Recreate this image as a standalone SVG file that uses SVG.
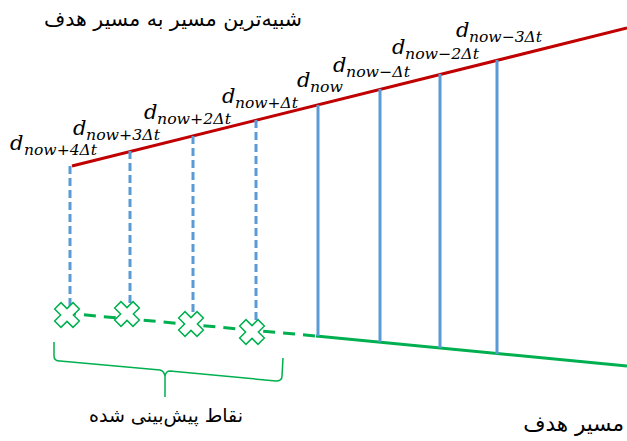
<svg xmlns="http://www.w3.org/2000/svg" width="627" height="441" viewBox="0 0 627 441">
<style>
.red{stroke:#c00000;stroke-width:3;fill:none}
.grn{stroke:#00b050;stroke-width:3;fill:none}
.grnd{stroke:#00b050;stroke-width:3;fill:none;stroke-dasharray:12 8}
.blu{stroke:#5b9bd5;stroke-width:3;fill:none}
.blud{stroke:#5b9bd5;stroke-width:3;fill:none;stroke-dasharray:8 4}
.brace{stroke:#00b050;stroke-width:1.5;fill:none}
.fa{font-family:"DejaVu Sans",sans-serif;font-size:19px;fill:#000}
.d{font-family:"DejaVu Serif","Liberation Serif",serif;font-style:italic;font-size:21px;fill:#000}
.s{font-family:"DejaVu Serif","Liberation Serif",serif;font-style:italic;font-size:15px;fill:#000}
.xm{fill:#fff;stroke:#00b050;stroke-width:1.5}
</style>
<defs>
<path id="cross" d="M-4.5,-13 h9 v8.5 h8.5 v9 h-8.5 v8.5 h-9 v-8.5 h-8.5 v-9 h8.5 z" transform="rotate(45)"/>
</defs>
<g id="connectors">
<line class="red" x1="72" y1="166" x2="627" y2="28"/>
<line class="grnd" x1="64" y1="313" x2="316" y2="336"/>
<line class="grn" x1="316" y1="336" x2="627" y2="366"/>
<line class="blud" x1="70" y1="166" x2="70" y2="306"/>
<line class="blud" x1="130" y1="151" x2="130" y2="305"/>
<line class="blud" x1="193" y1="136" x2="193" y2="316"/>
<line class="blud" x1="256" y1="120" x2="256" y2="322"/>
<line class="blu" x1="318" y1="105" x2="318" y2="336"/>
<line class="blu" x1="380" y1="89" x2="380" y2="342"/>
<line class="blu" x1="440" y1="74" x2="440" y2="348"/>
<line class="blu" x1="497" y1="60" x2="497" y2="354"/>
<path class="brace" d="M54,342 V356 Q54,361 60,361 L160,370 Q164,371 165,376 V397 M165,397 V376 Q166,371 170,371 L276,381 Q282,381 282,376 L283,358"/>
</g>
<g id="crosses">
<use href="#cross" x="67" y="315" class="xm"/>
<use href="#cross" x="127" y="314" class="xm"/>
<use href="#cross" x="191" y="324" class="xm"/>
<use href="#cross" x="252" y="332" class="xm"/>
</g>
<g id="title"><text class="fa" x="302" y="26" text-anchor="end" style="font-size:20.5px">شبیه‌ترین مسیر به مسیر هدف</text></g>
<g id="predicted"><text class="fa" x="166" y="422" text-anchor="middle">نقاط پیش‌بینی شده</text></g>
<g id="target"><text class="fa" x="624" y="431" text-anchor="end" style="font-size:21.5px">مسیر هدف</text></g>
<g id="labels">
<text class="d" x="10" y="150">d</text><text class="s" x="24" y="155" textLength="73" lengthAdjust="spacingAndGlyphs">now+4Δt</text>
<text class="d" x="73" y="135">d</text><text class="s" x="86" y="140" textLength="74" lengthAdjust="spacingAndGlyphs">now+3Δt</text>
<text class="d" x="144" y="119">d</text><text class="s" x="157" y="124" textLength="74" lengthAdjust="spacingAndGlyphs">now+2Δt</text>
<text class="d" x="222" y="103">d</text><text class="s" x="235" y="108" textLength="63" lengthAdjust="spacingAndGlyphs">now+Δt</text>
<text class="d" x="297" y="87">d</text><text class="s" x="310" y="92" textLength="33" lengthAdjust="spacingAndGlyphs">now</text>
<text class="d" x="333" y="72">d</text><text class="s" x="346" y="77" textLength="64" lengthAdjust="spacingAndGlyphs">now−Δt</text>
<text class="d" x="392" y="54">d</text><text class="s" x="405" y="59" textLength="74" lengthAdjust="spacingAndGlyphs">now−2Δt</text>
<text class="d" x="456" y="37">d</text><text class="s" x="469" y="42" textLength="73" lengthAdjust="spacingAndGlyphs">now−3Δt</text>
</g>
</svg>
